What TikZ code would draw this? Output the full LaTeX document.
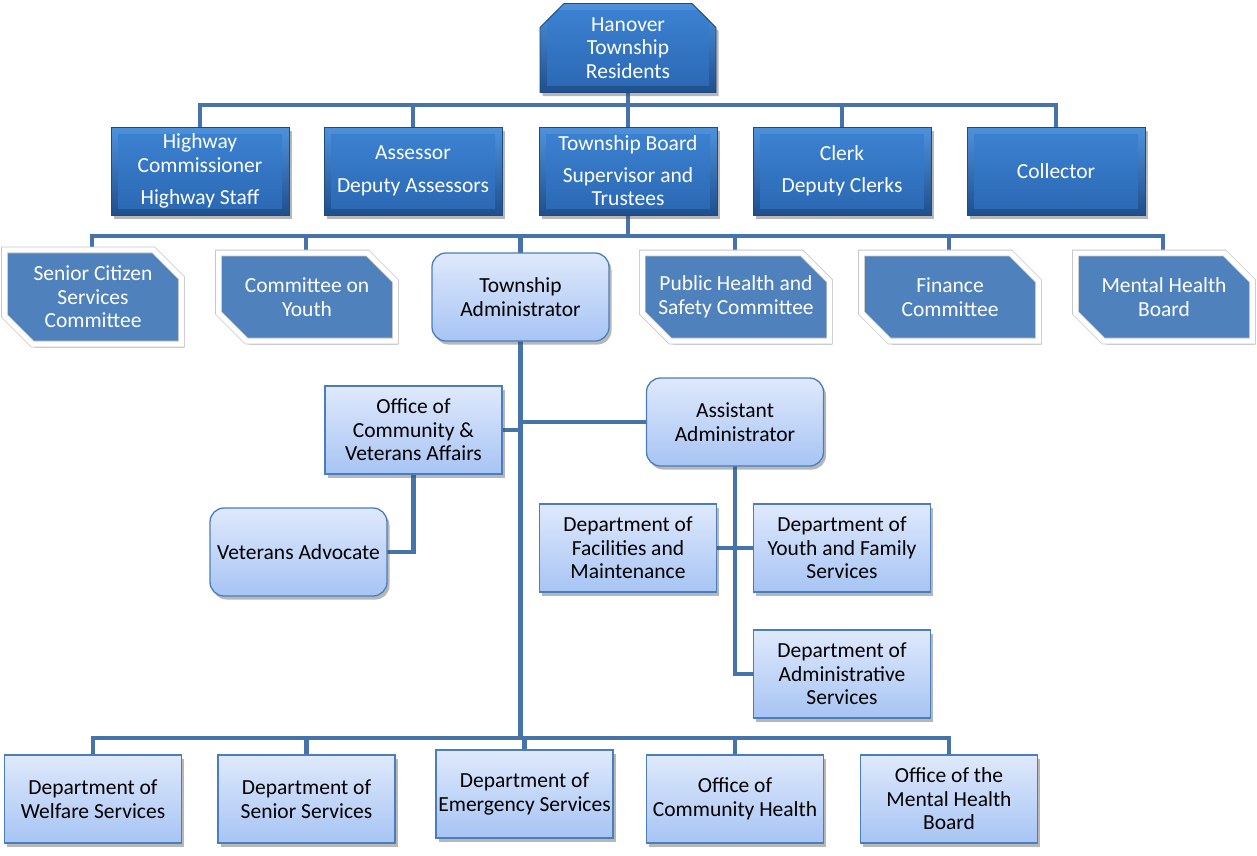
\documentclass[tikz,border=0pt]{standalone}
\usepackage{fontspec}
\setmainfont{Carlito}
\usetikzlibrary{shapes.misc,shadows}
\pgfdeclarelayer{back}
\pgfdeclarelayer{bg}
\pgfsetlayers{back,bg,main}
\definecolor{linec}{HTML}{4674AA}
\definecolor{bevA}{HTML}{4E92DC}
\definecolor{bevB}{HTML}{1F4F8C}
\definecolor{faceA}{HTML}{3D83D3}
\definecolor{faceB}{HTML}{2A67B2}
\definecolor{bevE}{HTML}{1D4A82}
\definecolor{commC}{HTML}{4F81BD}
\definecolor{lightA}{HTML}{DFE9FC}
\definecolor{lightB}{HTML}{A7C4F4}
\definecolor{lightE}{HTML}{4A7EBB}
\begin{document}
\begin{tikzpicture}[x=1pt,y=-1pt,
  every node/.style={font=\fontsize{21.5}{23.5}\selectfont, align=center, inner sep=2pt},
  shad/.style={drop shadow={shadow xshift=2.5pt, shadow yshift=-3.5pt, opacity=0.4, fill=black!70}},
  conn/.style={draw=linec, line width=4.5pt, line cap=rect},
  bevel/.style={rectangle, shad, draw=bevE, line width=0.8pt, top color=bevA, bottom color=bevB,
    text=white, minimum width=178pt, minimum height=88pt,
    path picture={\fill[top color=faceA, bottom color=faceB]
      ([xshift=7pt,yshift=-7pt]path picture bounding box.north west) rectangle
      ([xshift=-7pt,yshift=7pt]path picture bounding box.south east);}},
  topbev/.style={bevel, chamfered rectangle, chamfered rectangle corners={north west,north east},
    chamfered rectangle sep=12pt, minimum width=176pt, minimum height=89pt},
  commbox/.style={chamfered rectangle, chamfered rectangle corners={north east,south west},
    chamfered rectangle sep=14pt, fill=commC, draw=black!22, double=white, double distance=5pt,
    line width=0.8pt, text=white, minimum width=177pt, minimum height=88pt, shad},
  lightbox/.style={rectangle, draw=lightE, line width=1.3pt, top color=lightA, bottom color=lightB,
    minimum width=177pt, minimum height=88pt, shad},
  lightround/.style={lightbox, rounded corners=14pt}
]
\begin{pgfonlayer}{back}
\useasboundingbox[fill=white] (0,0) rectangle (1257,855);
\end{pgfonlayer}

% level 0
\node[topbev] (res) at (628,48) {Hanover\\Township\\Residents};
% level 1
\node[bevel] (hw) at (200,171) {Highway\\Commissioner\\[9pt]Highway Staff};
\node[bevel] (ass) at (413,171) {Assessor\\[9pt]Deputy Assessors};
\node[bevel] (tb) at (628,171) {Township Board\\[8pt]Supervisor and\\Trustees};
\node[bevel] (clk) at (842,171) {Clerk\\[9pt]Deputy Clerks};
\node[bevel] (col) at (1056,171) {Collector};
% level 2
\node[commbox] (sc) at (93,297) {Senior Citizen\\Services\\Committee};
\node[commbox] (cy) at (307,297) {Committee on\\Youth};
\node[lightround] (adm) at (520.5,297) {Township\\Administrator};
\node[commbox] (ph) at (736,297) {Public Health and\\Safety Committee};
\node[commbox] (fc) at (950,297) {Finance\\Committee};
\node[commbox] (mh) at (1164,297) {Mental Health\\Board};
% middle
\node[lightbox] (oca) at (413.5,430) {Office of\\Community \&\\Veterans Affairs};
\node[lightround] (asst) at (735,422) {Assistant\\Administrator};
\node[lightround] (vet) at (298.5,552) {Veterans Advocate};
\node[lightbox] (fac) at (628,548) {Department of\\Facilities and\\Maintenance};
\node[lightbox] (yfs) at (842,548) {Department of\\Youth and Family\\Services};
\node[lightbox] (das) at (842,674) {Department of\\Administrative\\Services};
% bottom
\node[lightbox] (wel) at (93,799) {Department of\\Welfare Services};
\node[lightbox] (sen) at (306.5,799) {Department of\\Senior Services};
\node[lightbox] (emg) at (524.5,794) {Department of\\Emergency Services};
\node[lightbox] (och) at (735,799) {Office of\\Community Health};
\node[lightbox] (omh) at (949,799) {Office of the\\Mental Health\\Board};

\coordinate (b1) at (628,105);
\coordinate (b2) at (628,236);
\coordinate (b3) at (520,738);

\begin{pgfonlayer}{bg}
\draw[conn] (res.south) -- (tb.north);
\draw[conn] (hw.north) -- (hw.north |- b1) -- (col.north |- b1) -- (col.north);
\draw[conn] (ass.north) -- (ass.north |- b1);
\draw[conn] (clk.north) -- (clk.north |- b1);

\draw[conn] (tb.south) -- (tb.south |- b2);
\draw[conn] ([xshift=-1pt]sc.north) -- ([xshift=-1pt]sc.north |- b2) -- ([xshift=-1pt]mh.north |- b2) -- ([xshift=-1pt]mh.north);
\draw[conn] ([xshift=-1pt]cy.north) -- ([xshift=-1pt]cy.north |- b2);
\draw[conn] (adm.north) -- (adm.north |- b2);
\draw[conn] ([xshift=-1pt]ph.north) -- ([xshift=-1pt]ph.north |- b2);
\draw[conn] ([xshift=-1pt]fc.north) -- ([xshift=-1pt]fc.north |- b2);

\draw[conn] (adm.south) -- (adm.south |- b3);
\draw[conn] (oca.east) -- (oca.east -| adm.south);
\draw[conn] (asst.west) -- (asst.west -| adm.south);
\draw[conn] (oca.south) |- (vet.east);
\draw[conn] (asst.south) |- (das.west);
\draw[conn] (fac.east) -- (yfs.west);

\draw[conn] (wel.north) -- (wel.north |- b3) -- (omh.north |- b3) -- (omh.north);
\draw[conn] (sen.north) -- (sen.north |- b3);
\draw[conn] (emg.north) -- (emg.north |- b3);
\draw[conn] (och.north) -- (och.north |- b3);
\end{pgfonlayer}
\end{tikzpicture}
\end{document}
